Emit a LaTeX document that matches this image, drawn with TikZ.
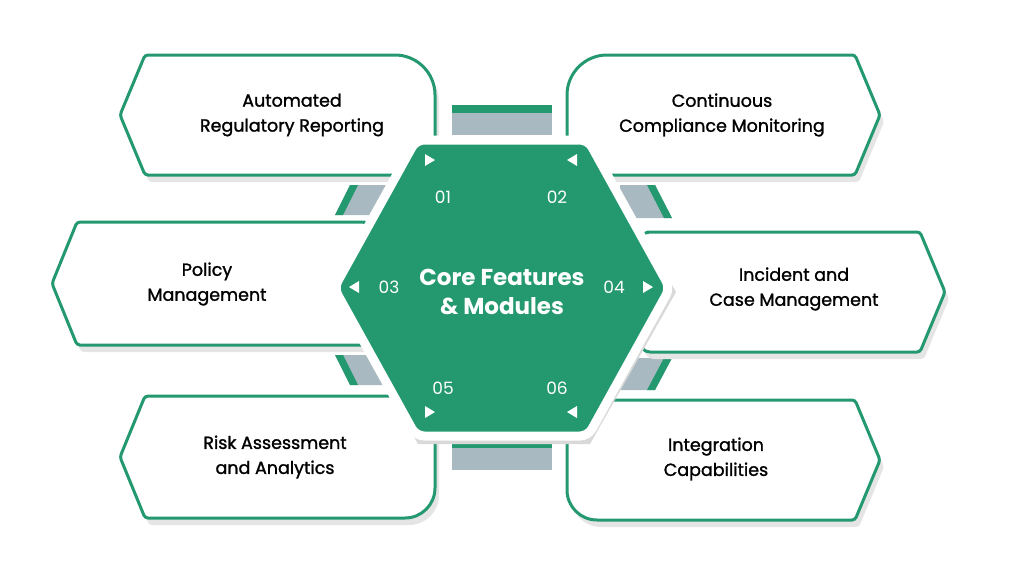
\documentclass[tikz,border=0pt]{standalone}
\usepackage{fontspec}
\setmainfont{Poppins}
\newfontfamily\labelFont{Poppins}[FakeBold=1.4]
\usetikzlibrary{calc, positioning}
\definecolor{coreGreen}{HTML}{24996F}
\definecolor{linkGrey}{HTML}{A9B9C1}
\tikzset{
    boxEdge/.style={draw=coreGreen, line width=3pt, fill=white},
    boxShade/.style={fill=black!10, draw=none},
    boxText/.style={align=center, font=\labelFont\fontsize{17.5}{25}\selectfont, text=black},
    numText/.style={font=\fontsize{17}{20}\selectfont, text=white},
    coreText/.style={align=center, font=\bfseries\fontsize{23}{29}\selectfont, text=white},
    linkBar/.style={fill=linkGrey},
    linkTop/.style={fill=coreGreen},
    tip/.style={fill=white},
}
% left box: tip x, right x, top y, bottom y, top radius, bottom radius
\newcommand{\leftBox}[6]{
    \foreach \dx/\dy/\sty in {4/7/boxShade, 0/0/boxEdge}{
        \draw[\sty, shift={(\dx,\dy)}, rounded corners=3] (#1,{(#3+#4)/2}) -- (#1+25,#3) -- (#2-#5,#3)
            [rounded corners=#5] -- (#2,#3) [rounded corners=#6] -- (#2,#4) [rounded corners=3] -- (#1+25,#4) -- cycle;
    }
}
\newcommand{\rightBox}[6]{
    \foreach \dx/\dy/\sty in {4/7/boxShade, 0/0/boxEdge}{
        \draw[\sty, shift={(\dx,\dy)}, rounded corners=3] (#2,{(#3+#4)/2}) -- (#2-25,#3) -- (#1+#5,#3)
            [rounded corners=#5] -- (#1,#3) [rounded corners=#6] -- (#1,#4) [rounded corners=3] -- (#2-25,#4) -- cycle;
    }
}
\newcommand{\tri}[3]{
    \fill[tip] (#1,#2) ++(#3*5,0) -- ++(-#3*10,-6) -- ++(0,12) -- cycle;
}

\begin{document}
\begin{tikzpicture}[x=1pt, y=-1pt]
    \useasboundingbox (0,0) rectangle (1024,576);

    % links behind the boxes
    \fill[linkBar] (452,105) rectangle (552,135);
    \fill[linkTop] (452,105) rectangle (552,113);
    \fill[linkBar] (452,440) rectangle (552,470);
    \fill[linkTop] (452,440) rectangle (552,448);
    \fill[linkBar] (350,185) -- (390,185) -- (390,215) -- (335,215) -- cycle;
    \fill[linkTop] (350,185) -- (358,185) -- (343,215) -- (335,215) -- cycle;
    \fill[linkBar] (620,185) -- (655,185) -- (672,218) -- (620,218) -- cycle;
    \fill[linkTop] (647,185) -- (655,185) -- (672,218) -- (664,218) -- cycle;
    \fill[linkBar] (335,355) -- (390,355) -- (390,385) -- (350,385) -- cycle;
    \fill[linkTop] (335,355) -- (343,355) -- (358,385) -- (350,385) -- cycle;
    \fill[linkBar] (620,358) -- (672,358) -- (655,390) -- (620,390) -- cycle;
    \fill[linkTop] (664,358) -- (672,358) -- (655,390) -- (647,390) -- cycle;

    % boxes
    \leftBox{120}{435}{55}{175}{40}{3}
    \leftBox{52}{372}{222}{345}{10}{10}
    \leftBox{120}{435}{396}{518}{8}{30}
    \rightBox{567}{880}{55}{175}{40}{3}
    \rightBox{640}{945}{232}{352}{10}{10}
    \rightBox{567}{880}{400}{520}{8}{30}

    \node[boxText] (reporting) at (292,115) {Automated\\Regulatory Reporting};
    \node[boxText] (monitoring) at (722,115) {Continuous\\Compliance Monitoring};
    \node[boxText] (policy) at (207,284) {Policy\\Management};
    \node[boxText] (incident) at (794,289) {Incident and\\Case Management};
    \node[boxText] (risk) at (275,457) {Risk Assessment\\and Analytics};
    \node[boxText] (integration) at (716,459) {Integration\\Capabilities};

    % central hexagon
    \fill[black!15] (418,140) -- (590,140) -- (676,292) -- (590,444) -- (418,444) -- (332,292) -- cycle;
    \draw[fill=coreGreen, draw=white, line width=9pt, rounded corners=8]
        (416,140) -- (588,140) -- (670,288) -- (588,436) -- (416,436) -- (334,288) -- cycle;
    \node[coreText] (core) at (502,292) {Core Features\\\& Modules};

    \tri{430}{160}{1}  \node[numText] (n1) at (443,197) {01};
    \tri{572}{160}{-1} \node[numText] (n2) at (557,197) {02};
    \tri{354}{287}{-1} \node[numText] (n3) at (389,287) {03};
    \tri{648}{287}{1}  \node[numText] (n4) at (614,287) {04};
    \tri{430}{412}{1}  \node[numText] (n5) at (443,388) {05};
    \tri{572}{412}{-1} \node[numText] (n6) at (557,388) {06};
\end{tikzpicture}
\end{document}
